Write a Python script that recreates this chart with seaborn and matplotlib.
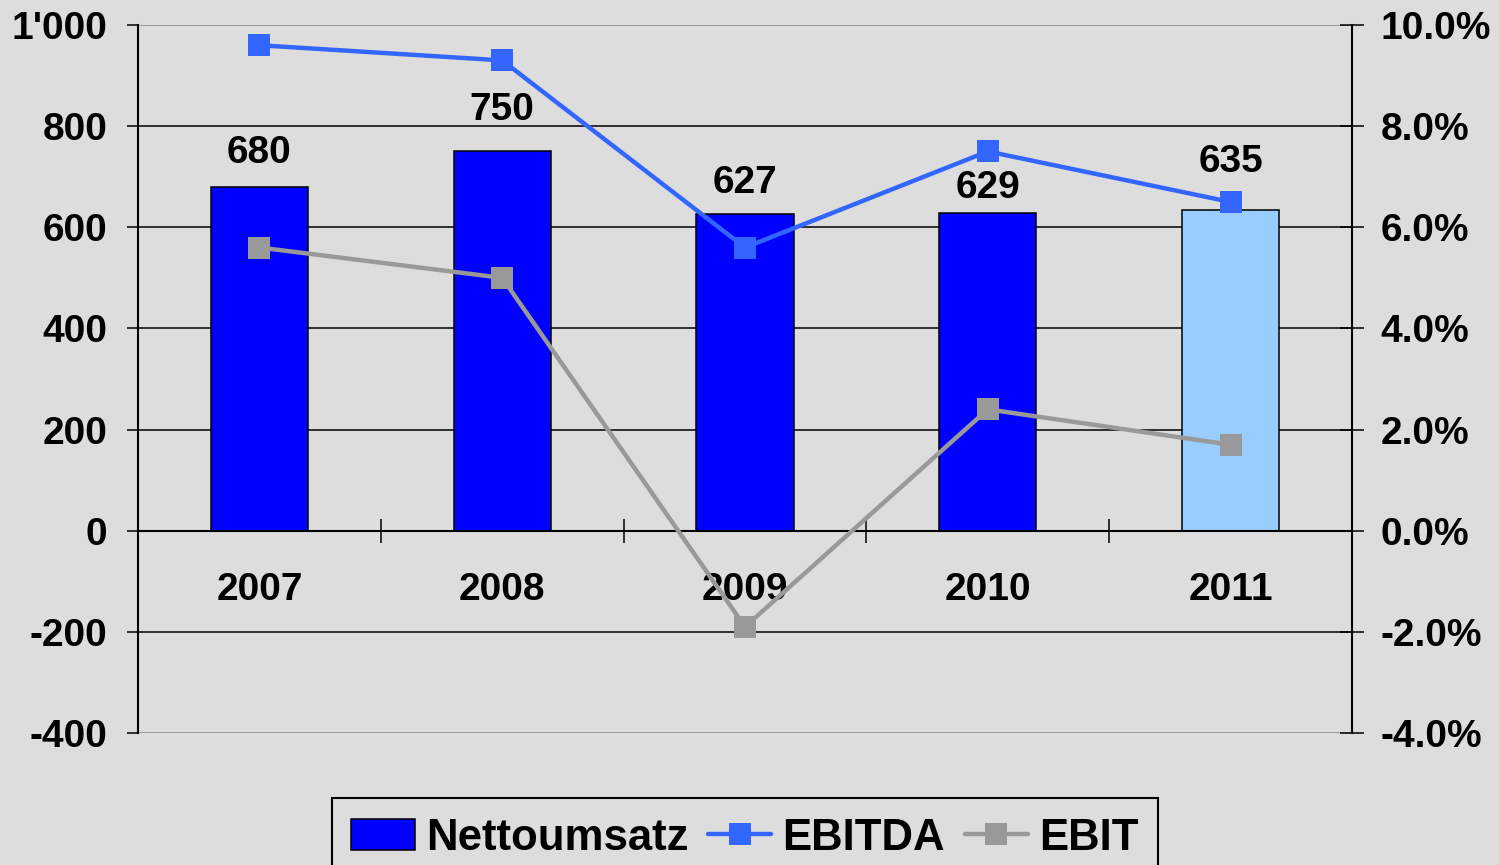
import numpy as np
import matplotlib
matplotlib.use("Agg")
import matplotlib.pyplot as plt
from matplotlib.ticker import FuncFormatter, FixedLocator
from matplotlib.patches import Patch
from matplotlib.lines import Line2D
import seaborn as sns

# ---- data ----
years = ["2007", "2008", "2009", "2010", "2011"]
nettoumsatz = [680, 750, 627, 629, 635]
ebitda = [9.6, 9.3, 5.6, 7.5, 6.5]
ebit = [5.6, 5.0, -1.9, 2.4, 1.7]

left_ticks = [-400, -200, 0, 200, 400, 600, 800, 1000]
right_ticks = [-4, -2, 0, 2, 4, 6, 8, 10]

# ---- style ----
bg = "#DDDDDD"
bar_colors = ["#0000FF", "#0000FF", "#0000FF", "#0000FF", "#99CCFF"]
c_ebitda = "#3366FF"
c_ebit = "#999999"
label_offsets = [24.5, 30, 22, 17.5, 34.5]  # points above bar top
fs = 28

sns.set_theme(style="white")
plt.rcParams["font.family"] = ["Liberation Sans", "DejaVu Sans"]
plt.rcParams["font.weight"] = "bold"
plt.rcParams["text.color"] = "black"
plt.rcParams["axes.labelcolor"] = "black"
plt.rcParams["xtick.color"] = "black"
plt.rcParams["ytick.color"] = "black"

fig = plt.figure(figsize=(14.99, 8.65), dpi=100, facecolor=bg)
ax1 = fig.add_axes([138 / 1499, 1 - 733 / 865, (1352 - 138) / 1499, (733 - 25) / 865])
ax1.set_facecolor(bg)

sns.barplot(x=years, y=nettoumsatz, hue=years, palette=bar_colors, legend=False,
            width=0.4, edgecolor="black", linewidth=1.1, saturation=1, ax=ax1)

ax2 = ax1.twinx()
sns.pointplot(x=years, y=ebitda, color=c_ebitda, markers="s", linestyles="-",
              linewidth=3.2, markersize=16, markeredgewidth=0, errorbar=None, ax=ax2)
sns.pointplot(x=years, y=ebit, color=c_ebit, markers="s", linestyles="-",
              linewidth=3.2, markersize=16, markeredgewidth=0, errorbar=None, ax=ax2)

# bar value labels
for i, (v, off) in enumerate(zip(nettoumsatz, label_offsets)):
    ax1.annotate(str(v), xy=(i, v), xytext=(0, off), textcoords="offset points",
                 ha="center", va="center", fontsize=fs, fontweight="bold", color="black")

# y axes
ax1.set_ylim(-400, 1000)
ax1.yaxis.set_major_locator(FixedLocator(left_ticks))
ax1.yaxis.set_major_formatter(FuncFormatter(lambda v, p: f"{v:,.0f}".replace(",", "'")))
ax2.set_ylim(-4, 10)
ax2.yaxis.set_major_locator(FixedLocator(right_ticks))
ax2.yaxis.set_major_formatter(FuncFormatter(lambda v, p: f"{v:.1f}%"))

# x axis: spine at zero, boundary ticks, labels below
ax1.set_xlim(-0.5, len(years) - 0.5)
ax1.spines["bottom"].set_position(("data", 0))
ax1.xaxis.set_major_locator(FixedLocator([i + 0.5 for i in range(len(years) - 1)]))
ax1.xaxis.set_major_formatter(FuncFormatter(lambda v, p: ""))
ax1.xaxis.set_minor_locator(FixedLocator(list(range(len(years)))))
ax1.xaxis.set_minor_formatter(FuncFormatter(lambda v, p: years[int(round(v))]))
ax1.tick_params(axis="x", which="major", direction="inout", length=17, width=1.1,
                color="black", bottom=True)
ax1.tick_params(axis="x", which="minor", length=0, pad=30, labelsize=fs,
                labelcolor="black", bottom=True, labelbottom=True)
ax1.set_xlabel("")
ax1.set_ylabel("")
ax2.set_ylabel("")
ax2.tick_params(axis="x", which="both", bottom=False, labelbottom=False, top=False)

ax1.tick_params(axis="y", direction="out", length=8, width=1.1, color="black",
                pad=14, labelsize=fs, labelcolor="black", left=True)
ax2.tick_params(axis="y", direction="inout", length=17, width=1.1, color="black",
                pad=12, labelsize=fs, labelcolor="black", right=True)
for lab in ax1.get_yticklabels() + ax2.get_yticklabels() + ax1.get_xticklabels(minor=True):
    lab.set_fontweight("bold")

# grid
ax1.set_axisbelow(True)
ax1.grid(axis="y", color="black", linewidth=1.1)
ax1.grid(axis="x", visible=False)
for gl, t in zip(ax1.yaxis.get_gridlines(), left_ticks):
    if t in (left_ticks[0], left_ticks[-1]):
        gl.set_color("#888888")

# spines
for s in ["top", "right"]:
    ax1.spines[s].set_visible(False)
ax1.spines["left"].set_color("black")
ax1.spines["left"].set_linewidth(1.5)
ax1.spines["bottom"].set_color("black")
ax1.spines["bottom"].set_linewidth(1.5)
for s in ["top", "left", "bottom"]:
    ax2.spines[s].set_visible(False)
ax2.spines["right"].set_color("black")
ax2.spines["right"].set_linewidth(1.5)
ax2.set_xlim(-0.5, len(years) - 0.5)

# legend
handles = [
    Patch(facecolor=bar_colors[0], edgecolor="black", linewidth=1.1),
    Line2D([], [], color=c_ebitda, marker="s", markersize=16, linewidth=3.2, markeredgewidth=0),
    Line2D([], [], color=c_ebit, marker="s", markersize=16, linewidth=3.2, markeredgewidth=0),
]
leg = fig.legend(handles, ["Nettoumsatz", "EBITDA", "EBIT"], loc="upper center",
                 bbox_to_anchor=(745 / 1499, 1 - 798 / 865), ncol=3, frameon=True,
                 fancybox=False, edgecolor="black", facecolor=bg, framealpha=1,
                 prop={"weight": "bold", "size": 31.5}, handlelength=1.45,
                 handletextpad=0.25, columnspacing=0.45, borderpad=0.45,
                 borderaxespad=0, labelcolor="black")
leg.get_frame().set_linewidth(1.5)

fig.savefig("out.png", dpi=100, facecolor=bg)
